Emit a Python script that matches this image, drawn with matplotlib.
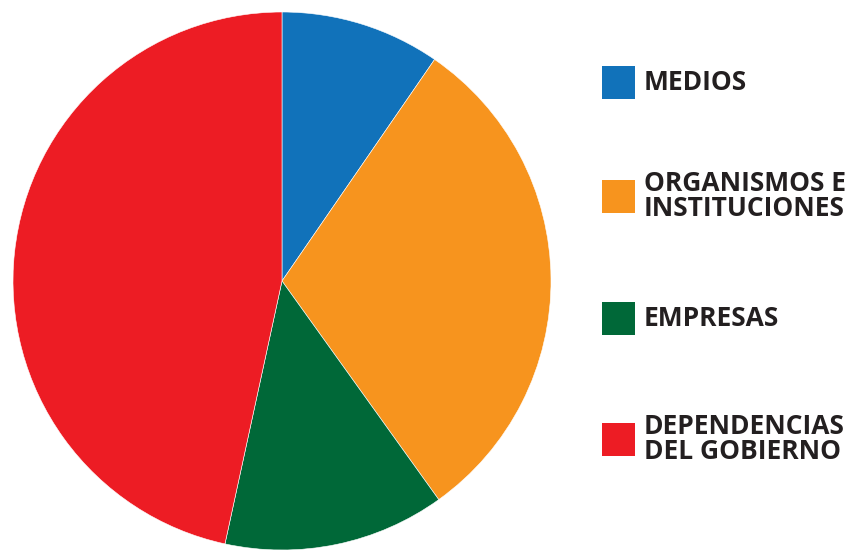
import matplotlib.pyplot as plt
from matplotlib.patches import Rectangle

# share of each group, clockwise from 12 o'clock
labels = ["MEDIOS", "ORGANISMOS E\nINSTITUCIONES", "EMPRESAS", "DEPENDENCIAS\nDEL GOBIERNO"]
values = [9.6, 30.5, 13.3, 46.6]
colors = ["#1172BA", "#F7941E", "#006838", "#ED1C24"]

W, H = 850, 551
fig = plt.figure(figsize=(W / 100, H / 100), dpi=100)
fig.patch.set_facecolor("white")

# pie centred at (282, 281) px with radius 269 px
cx, cy, r = 282, 281, 269
ax = fig.add_axes([(cx - r) / W, (H - cy - r) / H, 2 * r / W, 2 * r / H])
ax.pie(values, colors=colors, startangle=90, counterclock=False, radius=1,
       wedgeprops=dict(edgecolor="white", linewidth=0.4))
ax.set_xlim(-1, 1)
ax.set_ylim(-1, 1)
ax.set_aspect("equal")
ax.axis("off")

# legend drawn by hand: square + bold caps label
legend_y = [82, 196, 318, 439]
sq = 33
for lab, col, y in zip(labels, colors, legend_y):
    fig.add_artist(Rectangle((602 / W, (H - y - sq / 2) / H), sq / W, sq / H,
                             transform=fig.transFigure, facecolor=col, edgecolor="none"))
    fig.text(644 / W, (H - y) / H, lab, ha="left", va="center", fontsize=19,
             fontweight="bold", family="Open Sans", color="#231F20", linespacing=0.95)

fig.savefig("out.png", dpi=100)
